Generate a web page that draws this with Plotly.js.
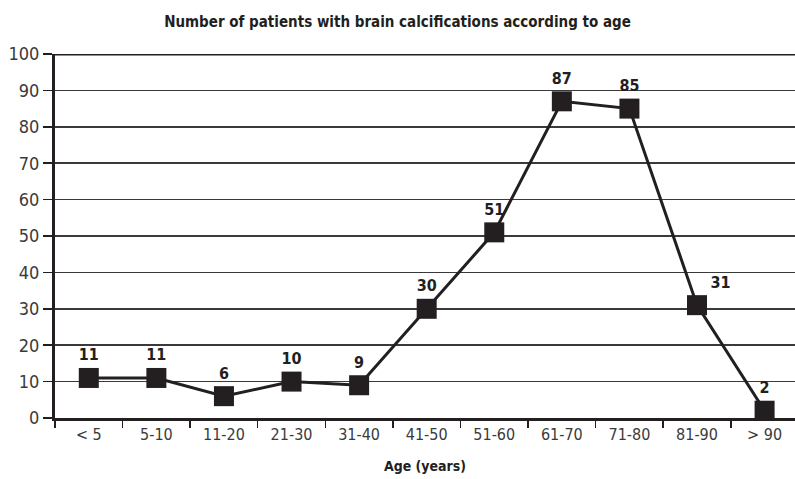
<!DOCTYPE html>
<html><head><meta charset="utf-8">
<script src="https://cdn.plot.ly/plotly-3.0.1.min.js"></script>
<style>body{margin:0;background:#fff}#c{width:795px;height:479px}</style>
</head><body><div id="c"></div>
<script>
const categories = ["< 5","5-10","11-20","21-30","31-40","41-50","51-60","61-70","71-80","81-90","> 90"];
const patients = [11,11,6,10,9,30,51,87,85,31,2];
const yTicks = [0,10,20,30,40,50,60,70,80,90,100];

const FONT = "'Liberation Sans Narrow','DejaVu Sans Condensed','Arial Narrow',sans-serif";

const trace = {
  x: categories, y: patients, type: 'scatter', mode: 'lines+markers+text',
  text: patients.map(String),
  textposition: categories.map((c, i) => i === 9 ? 'top right' : 'top center'),
  textfont: {family: FONT, size: 16, color: '#231f20', weight: 'bold'},
  line: {color: '#231f20', width: 3},
  marker: {symbol: 'square', size: 20, color: '#231f20'},
  cliponaxis: false, hoverinfo: 'none'
};

const layout = {
  width: 795, height: 479,
  margin: {l: 55, r: 0, t: 54, b: 61},
  paper_bgcolor: '#fff', plot_bgcolor: '#fff',
  showlegend: false,
  font: {family: FONT, color: '#231f20'},
  title: {text: '<b>Number of patients with brain calcifications according to age</b>',
          font: {family: FONT, size: 15, color: '#231f20'}, x: 0.5, xanchor: 'center', y: 0.955, yanchor: 'middle'},
  xaxis: {
    type: 'category', range: [-0.5, 10.45], tickson: 'boundaries',
    ticks: 'outside', ticklen: 7, tickwidth: 1.5, tickcolor: '#231f20',
    showline: true, linewidth: 3, linecolor: '#231f20', showgrid: false,
    tickfont: {family: FONT, size: 16, color: '#3a3a3a'},
    title: {text: '<b>Age (years)</b>', font: {family: FONT, size: 14, color: '#231f20'}, standoff: 18}
  },
  yaxis: {
    range: [0, 100], tickvals: yTicks, ticks: 'outside', ticklen: 9, tickwidth: 1.5, tickcolor: '#231f20',
    showline: true, linewidth: 3, linecolor: '#231f20',
    showgrid: true, gridcolor: '#3a3a3a', gridwidth: 1.5, zeroline: false,
    tickfont: {family: FONT, size: 18, color: '#3a3a3a'}
  },
  shapes: [{type: 'line', xref: 'paper', yref: 'y', x0: 0, x1: 1, y0: 100, y1: 100,
            line: {color: '#231f20', width: 3}}]
};

Plotly.newPlot('c', [trace], layout, {staticPlot: true, displayModeBar: false});
</script></body></html>
